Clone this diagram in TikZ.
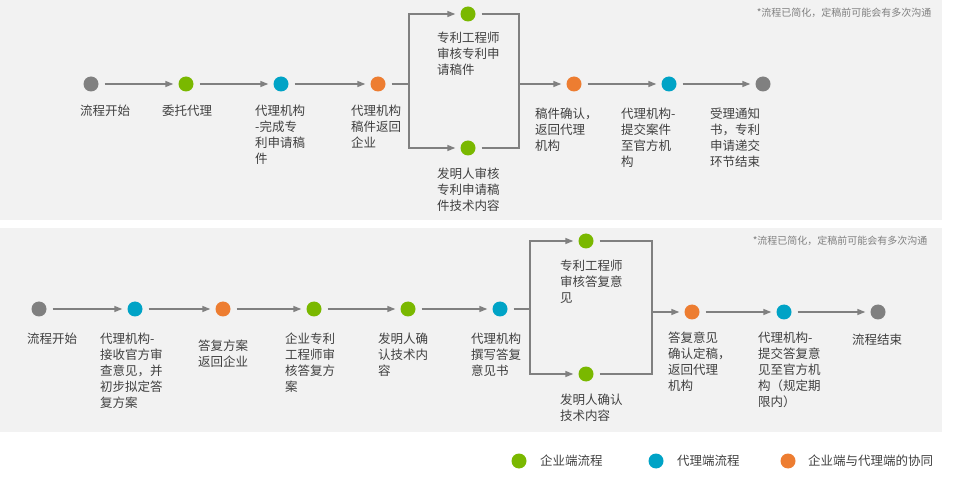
\documentclass[tikz,border=0pt]{standalone}
\usepackage{fontspec}
\setmainfont{Noto Sans CJK SC}
\usetikzlibrary{arrows.meta}
\definecolor{cg}{HTML}{7AB800}
\definecolor{cb}{HTML}{00A3C6}
\definecolor{co}{HTML}{ED7D31}
\definecolor{cy}{HTML}{808080}
\definecolor{pan}{HTML}{F2F2F2}
\definecolor{txt}{HTML}{404040}
\begin{document}
\begin{tikzpicture}[x=1pt,y=-1pt,
  dot/.style={circle,inner sep=0pt,minimum size=15pt},
  lab/.style={anchor=north west,align=left,inner sep=0pt,text=txt,font=\fontsize{12.5}{16}\selectfont},
  arr/.style={draw=cy,line width=1.4pt,shorten <=6pt,shorten >=5pt,-{Triangle[length=8pt,width=6pt]}},
  arrb/.style={draw=cy,line width=1.4pt,shorten >=5pt,-{Triangle[length=8pt,width=6pt]}},
  ln/.style={draw=cy,line width=1.4pt,shorten <=6pt},
  note/.style={anchor=east,text=cy,font=\fontsize{10}{12}\selectfont\itshape}]
\useasboundingbox (0,0) rectangle (954,481);
\fill[pan] (0,0) rectangle (942,220);
\fill[pan] (0,228) rectangle (942,432);
\node[note] (n1) at (935,13) {*流程已简化，定稿前可能会有多次沟通};
\node[note] (n2) at (931,241) {*流程已简化，定稿前可能会有多次沟通};
% top row
\node[dot,fill=cy] (a1) at (91,84) {};
\node[dot,fill=cg] (a2) at (186,84) {};
\node[dot,fill=cb] (a3) at (281,84) {};
\node[dot,fill=co] (a4) at (378,84) {};
\node[dot,fill=cg] (a5) at (468,14) {};
\node[dot,fill=cg] (a6) at (468,148) {};
\node[dot,fill=co] (a7) at (574,84) {};
\node[dot,fill=cb] (a8) at (669,84) {};
\node[dot,fill=cy] (a9) at (763,84) {};
\coordinate (s1) at (409,84);
\coordinate (m1) at (519,84);
\draw[arr] (a1) -- (a2);
\draw[arr] (a2) -- (a3);
\draw[arr] (a3) -- (a4);
\draw[ln] (a4) -- (s1);
\draw[arrb] (s1) |- (a5);
\draw[arrb] (s1) |- (a6);
\draw[ln] (a5) -| (m1);
\draw[ln] (a6) -| (m1);
\draw[arrb] (m1) -- (a7);
\draw[arr] (a7) -- (a8);
\draw[arr] (a8) -- (a9);
\node[lab] (t1) at (80,105) {流程开始};
\node[lab] (t2) at (162,105) {委托代理};
\node[lab] (t3) at (255,105) {代理机构\\-完成专\\利申请稿\\件};
\node[lab] (t4) at (351,105) {代理机构\\稿件返回\\企业};
\node[lab] (t5) at (437,32) {专利工程师\\审核专利申\\请稿件};
\node[lab] (t6) at (437,168) {发明人审核\\专利申请稿\\件技术内容};
\node[lab] (t7) at (535,108) {稿件确认，\\返回代理\\机构};
\node[lab] (t8) at (621,108) {代理机构-\\提交案件\\至官方机\\构};
\node[lab] (t9) at (710,108) {受理通知\\书，专利\\申请递交\\环节结束};
% bottom row
\node[dot,fill=cy] (b1) at (39,309) {};
\node[dot,fill=cb] (b2) at (135,309) {};
\node[dot,fill=co] (b3) at (223,309) {};
\node[dot,fill=cg] (b4) at (314,309) {};
\node[dot,fill=cg] (b5) at (408,309) {};
\node[dot,fill=cb] (b6) at (500,309) {};
\node[dot,fill=cg] (b7) at (586,241) {};
\node[dot,fill=cg] (b8) at (586,374) {};
\node[dot,fill=co] (b9) at (692,312) {};
\node[dot,fill=cb] (b10) at (784,312) {};
\node[dot,fill=cy] (b11) at (878,312) {};
\coordinate (s2) at (530,309);
\coordinate (m2) at (652,312);
\draw[arr] (b1) -- (b2);
\draw[arr] (b2) -- (b3);
\draw[arr] (b3) -- (b4);
\draw[arr] (b4) -- (b5);
\draw[arr] (b5) -- (b6);
\draw[ln] (b6) -- (s2);
\draw[arrb] (s2) |- (b7);
\draw[arrb] (s2) |- (b8);
\draw[ln] (b7) -| (m2);
\draw[ln] (b8) -| (m2);
\draw[arrb] (m2) -- (b9);
\draw[arr] (b9) -- (b10);
\draw[arr] (b10) -- (b11);
\node[lab] (u1) at (27,333) {流程开始};
\node[lab] (u2) at (100,333) {代理机构-\\接收官方审\\查意见，并\\初步拟定答\\复方案};
\node[lab] (u3) at (198,340) {答复方案\\返回企业};
\node[lab] (u4) at (285,333) {企业专利\\工程师审\\核答复方\\案};
\node[lab] (u5) at (378,333) {发明人确\\认技术内\\容};
\node[lab] (u6) at (471,333) {代理机构\\撰写答复\\意见书};
\node[lab] (u7) at (560,260) {专利工程师\\审核答复意\\见};
\node[lab] (u8) at (560,394) {发明人确认\\技术内容};
\node[lab] (u9) at (668,332) {答复意见\\确认定稿，\\返回代理\\机构};
\node[lab] (u10) at (758,332) {代理机构-\\提交答复意\\见至官方机\\构（规定期\\限内）};
\node[lab] (u11) at (852,334) {流程结束};
% legend
\node[dot,fill=cg] (l1) at (519,461) {};
\node[lab,anchor=west] (lt1) at (540,461) {企业端流程};
\node[dot,fill=cb] (l2) at (656,461) {};
\node[lab,anchor=west] (lt2) at (677,461) {代理端流程};
\node[dot,fill=co] (l3) at (788,461) {};
\node[lab,anchor=west] (lt3) at (808,461) {企业端与代理端的协同};
\end{tikzpicture}
\end{document}
